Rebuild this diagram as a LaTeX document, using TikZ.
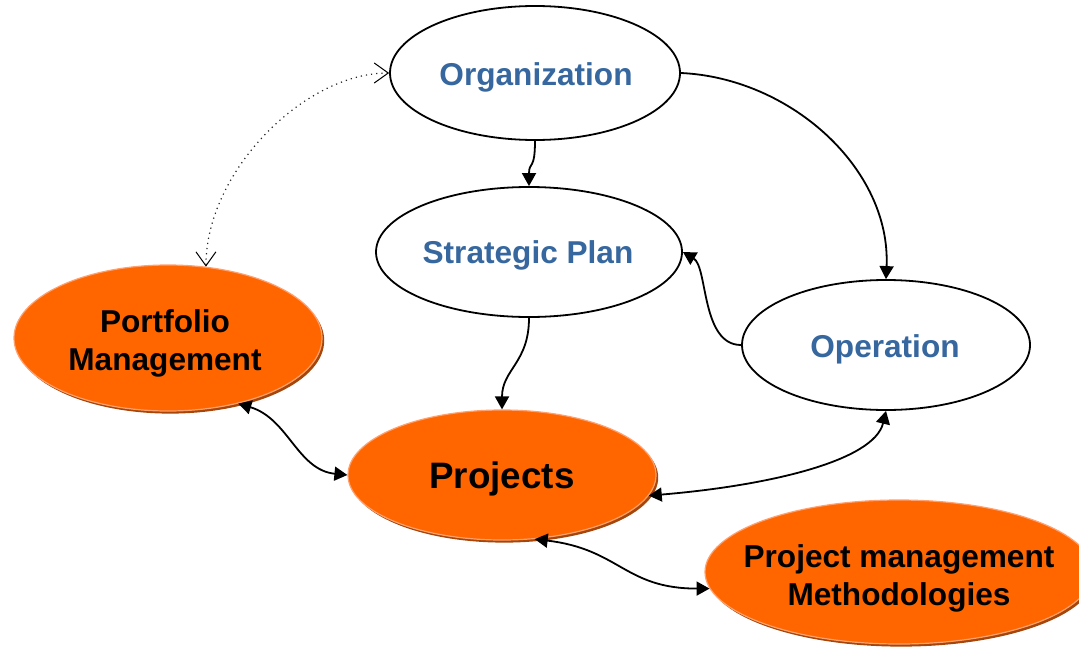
\documentclass[tikz,border=0pt]{standalone}
\usepackage{fontspec}
\setmainfont{Liberation Sans}
\usetikzlibrary{shapes.geometric,arrows.meta,shadows}
\definecolor{txtblue}{RGB}{54,103,158}
\definecolor{pmorange}{RGB}{255,102,0}
\definecolor{pmlight}{RGB}{255,160,110}
\definecolor{pmshadow}{RGB}{165,70,10}
\begin{document}
\begin{tikzpicture}[x=0.5pt,y=-0.5pt,
  whiteell/.style={ellipse,draw=black,line width=0.9pt,fill=white,inner sep=0pt},
  orangeell/.style={ellipse,draw=pmlight,line width=0.6pt,fill=pmorange,inner sep=0pt,
     drop shadow={shadow xshift=1.1pt,shadow yshift=-1.3pt,fill=pmshadow,opacity=1}},
  bluetxt/.style={font=\fontsize{15.8}{19}\selectfont\bfseries,text=txtblue,align=center,inner sep=0pt},
  blacktxt/.style={font=\fontsize{15.8}{19}\selectfont\bfseries,text=black,align=center,inner sep=0pt},
  bigtxt/.style={font=\fontsize{18.4}{22}\selectfont\bfseries,text=black,align=center,inner sep=0pt},
  conn/.style={line width=0.9pt,draw=black},
  tipend/.style={conn,-{Triangle[length=6.5pt,width=7pt]}},
  tipboth/.style={conn,{Triangle[length=6.5pt,width=7pt]}-{Triangle[length=6.5pt,width=7pt]}},
  dotconn/.style={line width=0.6pt,draw=black!85,dotted,
     {Straight Barb[length=7pt,width=10pt,color=black,line width=0.5pt]}-{Straight Barb[length=7pt,width=10pt,color=black,line width=0.5pt]}}
]
\useasboundingbox (0,0) rectangle (1079,647);

% white ellipses
\node[whiteell,minimum width=145pt,minimum height=67pt] (org) at (535,73) {};
\node[whiteell,minimum width=153pt,minimum height=65pt] (sp) at (529,252) {};
\node[whiteell,minimum width=144pt,minimum height=65pt] (op) at (886,345) {};
% orange ellipses
\node[orangeell,minimum width=154pt,minimum height=73pt] (pm) at (168,338) {};
\node[orangeell,minimum width=154pt,minimum height=65pt] (proj) at (502,475) {};
\node[orangeell,minimum width=194pt,minimum height=72pt] (pmm) at (899,572) {};

% texts
\node[bluetxt] (orgt) at (536,77) {Organization};
\node[bluetxt] (spt) at (528,255) {Strategic Plan};
\node[bluetxt] (opt) at (885,349) {Operation};
\node[blacktxt] (pmt) at (165,343) {Portfolio\\Management};
\node[bigtxt] (projt) at (502,479) {Projects};
\node[blacktxt] (pmmt) at (899,578) {Project management\\Methodologies};

% connectors
\draw[tipend] (org.south) .. controls +(0,30) and +(0,-25) .. (sp.north);
\draw[tipend] (org.east) .. controls +(110,5) and +(5,-110) .. (op.north);
\draw[tipend] (op.west) .. controls +(-40,0) and +(25,15) .. (sp.east);
\draw[tipend] (sp.south) .. controls +(0,45) and +(0,-40) .. (proj.north);
\draw[tipboth] (pm.-43) .. controls +(50,15) and +(-50,-5) .. (proj.west);
\draw[tipboth] (proj.-8) .. controls +(120,-10) and +(-12,50) .. (op.south);
\draw[tipboth] (proj.-63) .. controls +(85,10) and +(-85,0) .. (pmm.185);
\draw[dotconn] (org.west) .. controls +(-85,0) and +(0,-95) .. (pm.62);
\end{tikzpicture}
\end{document}
